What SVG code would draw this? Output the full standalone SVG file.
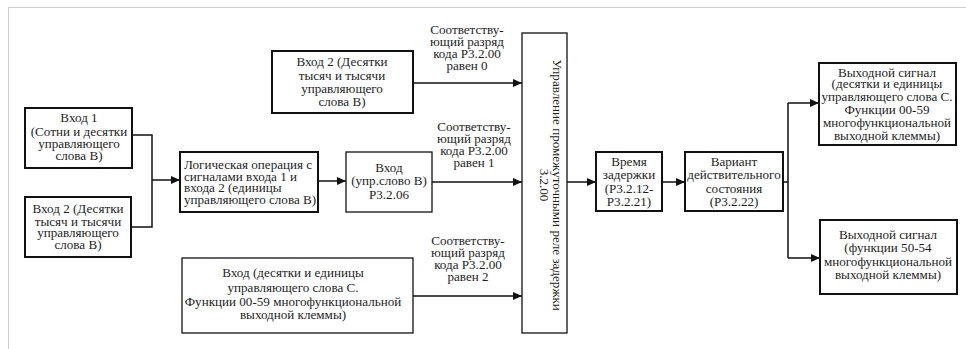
<svg xmlns="http://www.w3.org/2000/svg" width="966" height="349" viewBox="0 0 966 349" font-family="Liberation Serif, Times New Roman, serif">
<style>
  .box { fill: #fff; stroke: #111; stroke-width: 2; }
  .thin { stroke-width: 1.3; }
  .t { font-size: 13.1px; fill: #1e1e1e; text-anchor: middle; }
  .tl { text-anchor: start; }
  .c { fill: none; stroke: #111; stroke-width: 1.5; }
</style>
<defs>
  <marker id="ah" markerUnits="userSpaceOnUse" markerWidth="10" markerHeight="10" refX="9" refY="5" orient="auto">
    <path d="M0,1 L9,5 L0,9 Z" fill="#111"/>
  </marker>
</defs>
<rect width="966" height="349" fill="#fff"/>
<g id="frame">
  <line x1="8" y1="7.5" x2="966" y2="7.5" stroke="#cfcfcf" stroke-width="1"/>
  <line x1="8.5" y1="7" x2="8.5" y2="349" stroke="#cfcfcf" stroke-width="1"/>
</g>
<g id="connectors">
  <path class="c" d="M132,135 H152 V227 H131"/>
  <path class="c" d="M152,180 H180" marker-end="url(#ah)"/>
  <path class="c" d="M318,181 H346" marker-end="url(#ah)"/>
  <path class="c" d="M432,182 H522" marker-end="url(#ah)"/>
  <path class="c" d="M413,83 H522" marker-end="url(#ah)"/>
  <path class="c" d="M413,296 H522" marker-end="url(#ah)"/>
  <path class="c" d="M567,182 H596" marker-end="url(#ah)"/>
  <path class="c" d="M662,182 H685" marker-end="url(#ah)"/>
  <path class="c" d="M783,182 H788"/>
  <path class="c" d="M788,103 V258"/>
  <path class="c" d="M788,103 H819" marker-end="url(#ah)"/>
  <path class="c" d="M788,258 H820" marker-end="url(#ah)"/>
</g>
<g id="label0">
  <text class="t"><tspan x="467" y="34">Соответству-</tspan><tspan x="467" y="46">ющий разряд</tspan><tspan x="467" y="58">кода P3.2.00</tspan><tspan x="467" y="70">равен 0</tspan></text>
</g>
<g id="label1">
  <text class="t"><tspan x="474" y="131">Соответству-</tspan><tspan x="474" y="143">ющий разряд</tspan><tspan x="474" y="155">кода P3.2.00</tspan><tspan x="474" y="167">равен 1</tspan></text>
</g>
<g id="label2">
  <text class="t"><tspan x="468" y="245">Соответству-</tspan><tspan x="468" y="257">ющий разряд</tspan><tspan x="468" y="269">кода P3.2.00</tspan><tspan x="468" y="281">равен 2</tspan></text>
</g>
<g id="in1">
  <rect class="box" x="25" y="108" width="107" height="60"/>
  <text class="t"><tspan x="79" y="122">Вход  1</tspan><tspan x="79" y="136">(Сотни и десятки</tspan><tspan x="79" y="148">управляющего</tspan><tspan x="79" y="160">слова В)</tspan></text>
</g>
<g id="in2">
  <rect class="box" x="25" y="197" width="106" height="60"/>
  <text class="t"><tspan x="78" y="213">Вход  2 (Десятки</tspan><tspan x="78" y="226">тысяч и тысячи</tspan><tspan x="78" y="237">управляющего</tspan><tspan x="78" y="249">слова В)</tspan></text>
</g>
<g id="logic">
  <rect class="box" x="180" y="152" width="138" height="60"/>
  <text class="t tl"><tspan x="184" y="169">Логическая операция с</tspan><tspan x="184" y="181">сигналами входа 1 и</tspan><tspan x="184" y="192">входа 2 (единицы</tspan><tspan x="184" y="204">управляющего слова В)</tspan></text>
</g>
<g id="ctrlB">
  <rect class="box thin" x="346" y="152" width="86" height="60"/>
  <text class="t"><tspan x="389" y="172">Вход</tspan><tspan x="389" y="185">(упр.слово В)</tspan><tspan x="389" y="199">P3.2.06</tspan></text>
</g>
<g id="topIn">
  <rect class="box" x="272" y="51" width="141" height="62"/>
  <text class="t"><tspan x="342" y="66">Вход  2 (Десятки</tspan><tspan x="342" y="80">тысяч и тысячи</tspan><tspan x="342" y="93">управляющего</tspan><tspan x="342" y="106">слова В)</tspan></text>
</g>
<g id="botIn">
  <rect class="box thin" x="182" y="258" width="231" height="75"/>
  <text class="t"><tspan x="293" y="277">Вход (десятки и единицы</tspan><tspan x="293" y="292">управляющего слова С.</tspan><tspan x="293" y="306">Функции 00-59 многофункциональной</tspan><tspan x="293" y="319">выходной клеммы)</tspan></text>
</g>
<g id="relay">
  <rect class="box thin" x="522" y="33" width="45" height="300"/>
  <text class="t" transform="translate(553,185) rotate(90)" x="0" y="0">Управление промежуточными реле задержки</text>
  <text class="t" transform="translate(540,185) rotate(90)" x="0" y="0">3.2.00</text>
</g>
<g id="delay">
  <rect class="box" x="596" y="152" width="66" height="59"/>
  <text class="t"><tspan x="629" y="166">Время</tspan><tspan x="629" y="179">задержки</tspan><tspan x="629" y="193">(P3.2.12-</tspan><tspan x="629" y="206">P3.2.21)</tspan></text>
</g>
<g id="variant">
  <rect class="box" x="685" y="152" width="98" height="59"/>
  <text class="t"><tspan x="734" y="166">Вариант</tspan><tspan x="734" y="179">действительного</tspan><tspan x="734" y="193">состояния</tspan><tspan x="734" y="206">(P3.2.22)</tspan></text>
</g>
<g id="out1">
  <rect class="box" x="819" y="63" width="137" height="82"/>
  <text class="t"><tspan x="887" y="77">Выходной сигнал</tspan><tspan x="887" y="88">(десятки и единицы</tspan><tspan x="887" y="101">управляющего слова С.</tspan><tspan x="887" y="114">Функции 00-59</tspan><tspan x="887" y="127">многофункциональной</tspan><tspan x="887" y="140">выходной клеммы)</tspan></text>
</g>
<g id="out2">
  <rect class="box" x="820" y="220" width="137" height="74"/>
  <text class="t"><tspan x="888" y="239">Выходной сигнал</tspan><tspan x="888" y="252">(функции 50-54</tspan><tspan x="888" y="266">многофункциональной</tspan><tspan x="888" y="279">выходной клеммы)</tspan></text>
</g>
</svg>
